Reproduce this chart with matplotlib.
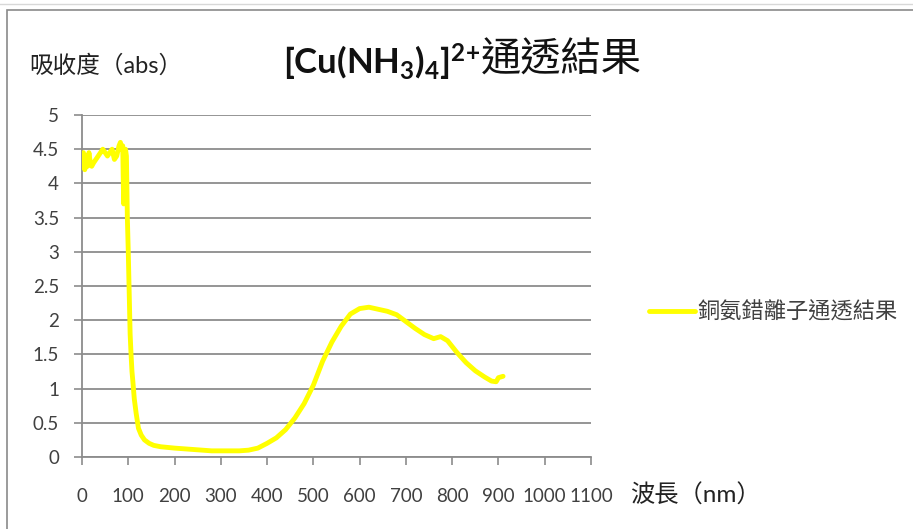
import matplotlib
matplotlib.use("Agg")
import matplotlib.pyplot as plt
from matplotlib.patches import Rectangle

plt.rcParams['font.family'] = ['Lato', 'Noto Sans CJK TC', 'DejaVu Sans']
plt.rcParams['mathtext.fontset'] = 'custom'
plt.rcParams['mathtext.rm'] = 'Lato'
plt.rcParams['mathtext.bf'] = 'Lato:bold'

# ---- data ----
wavelength = [0, 3, 6, 9, 12, 15, 18, 21, 25, 30, 35, 40, 45, 50, 55, 60, 65, 70, 75, 80,
              83, 86, 88, 90, 92, 94, 96, 98, 100, 102, 104, 106, 108, 110, 113, 117, 122,
              128, 135, 145, 155, 170, 185, 200, 220, 240, 260, 280, 300, 320, 340, 360,
              380, 400, 420, 440, 460, 480, 500, 520, 540, 560, 580, 600, 620, 640, 660,
              680, 700, 720, 740, 760, 775, 790, 810, 830, 850, 870, 885, 895, 900, 910]
absorbance = [4.30, 4.45, 4.20, 4.40, 4.25, 4.45, 4.30, 4.25, 4.30, 4.35, 4.40, 4.45, 4.50,
              4.45, 4.40, 4.45, 4.50, 4.35, 4.40, 4.55, 4.60, 4.50, 4.55, 3.70, 4.30, 4.50,
              4.40, 3.50, 3.00, 2.40, 1.80, 1.50, 1.25, 1.10, 0.85, 0.64, 0.42, 0.32, 0.25,
              0.20, 0.17, 0.15, 0.14, 0.13, 0.12, 0.11, 0.10, 0.09, 0.09, 0.09, 0.09, 0.10,
              0.13, 0.20, 0.28, 0.40, 0.57, 0.78, 1.05, 1.40, 1.68, 1.91, 2.09, 2.17, 2.19,
              2.16, 2.13, 2.08, 1.98, 1.88, 1.79, 1.73, 1.76, 1.70, 1.53, 1.38, 1.26, 1.17,
              1.11, 1.10, 1.16, 1.18]
x_ticks = list(range(0, 1200, 100))
y_ticks = [0, 0.5, 1, 1.5, 2, 2.5, 3, 3.5, 4, 4.5, 5]
y_tick_labels = ['0', '0.5', '1', '1.5', '2', '2.5', '3', '3.5', '4', '4.5', '5']
series_name = '銅氨錯離子通透結果'
title_math = r'$\mathbf{[Cu(NH_3)_4]^{2{+}}}$'
title_cjk = '通透結果'
y_label = '吸收度（abs）'
x_label = '波長（nm）'

W, H = 913, 529
fig = plt.figure(figsize=(W / 100, H / 100), dpi=100)
fig.patch.set_facecolor('white')

# chart border
fig.patches.append(Rectangle((7 / W, -0.1), 1.2, 1 - 10 / H + 0.1, transform=fig.transFigure,
                             fill=False, edgecolor='#8a8a8a', linewidth=1.2))
fig.lines.append(plt.Line2D([0, 1], [1 - 4 / H, 1 - 4 / H], transform=fig.transFigure,
                            color='#d8d8d8', linewidth=1))

ax = fig.add_axes([82 / W, 1 - 457 / H, (591 - 82) / W, (457 - 115) / H])
ax.plot(wavelength, absorbance, color='#ffff00', linewidth=3.5, solid_joinstyle='round',
        solid_capstyle='round', label=series_name, zorder=3)
ax.set_xlim(0, 1100)
ax.set_ylim(0, 5)
ax.set_xticks(x_ticks)
ax.set_xticklabels([str(t) for t in x_ticks])
ax.set_yticks(y_ticks)
ax.set_yticklabels(y_tick_labels)
ax.grid(axis='y', color='#8c8c8c', linewidth=1.3)
ax.set_axisbelow(True)
for s in ['top', 'right']:
    ax.spines[s].set_visible(False)
for s in ['left', 'bottom']:
    ax.spines[s].set_color('#8c8c8c')
    ax.spines[s].set_linewidth(1.3)
ax.tick_params(axis='both', colors='#8c8c8c', labelcolor='#404040', labelsize=13.5,
               length=5.5, width=1.2, direction='out')
ax.tick_params(axis='x', pad=17)
ax.tick_params(axis='y', pad=11)

leg = fig.legend(handles=ax.get_lines(), loc='center left', bbox_to_anchor=(631 / W, 1 - 312 / H),
                 frameon=False, handlelength=2.1, handletextpad=0.08, borderpad=0.3,
                 prop={'family': ['Noto Sans CJK TC'], 'size': 16})
for t in leg.get_texts():
    t.set_color('#404040')

fig.text(29 / W, 1 - 65 / H, y_label, fontsize=17, color='#222222', va='center', ha='left',
         family=['Lato', 'Noto Sans CJK TC'])
fig.text(630 / W, 1 - 495 / H, x_label, fontsize=17.5, color='#222222', va='center', ha='left',
         family=['Lato', 'Noto Sans CJK TC'])

t1 = fig.text(283 / W, 1 - 62 / H, title_math, fontsize=25, color='#111111',
              va='center', ha='left')
renderer = fig.canvas.get_renderer()
bb = t1.get_window_extent(renderer=renderer)
fig.text(bb.x1 / W + 1 / W, 1 - 60 / H, title_cjk, fontsize=29, color='#111111',
         va='center', ha='left', family='Noto Sans CJK TC')

fig.savefig('out.png', dpi=100)
